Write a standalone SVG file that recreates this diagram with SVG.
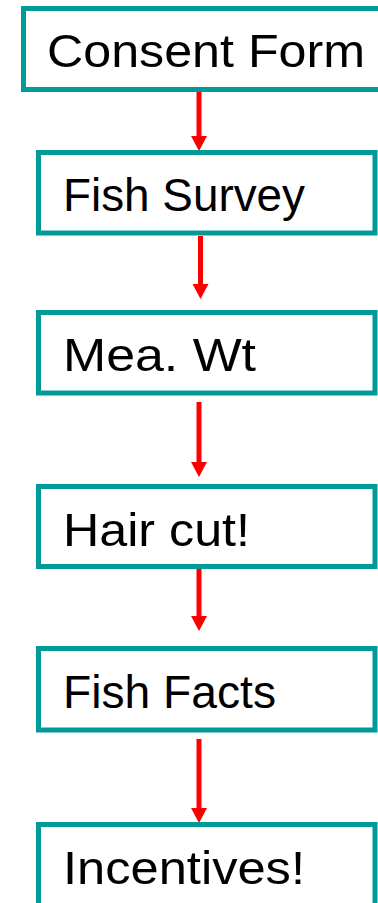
<svg xmlns="http://www.w3.org/2000/svg" width="378" height="903" viewBox="0 0 378 903">
<style>
.box{fill:#fff;stroke:#009B98;stroke-width:5}
.lbl{font-family:"Liberation Sans","Arial",sans-serif;font-size:47px;fill:#000}
.ln{stroke:#FF0000;stroke-width:5;fill:none}
.hd{fill:#FF0000}
</style>
<rect width="378" height="903" fill="#fff"/>
<g id="connectors">
<line class="ln" x1="199" y1="92" x2="199" y2="138"/><polygon class="hd" points="191,136 207,136 199,151"/>
<line class="ln" x1="200.5" y1="236" x2="200.5" y2="286"/><polygon class="hd" points="192.5,284 208.5,284 200.5,299"/>
<line class="ln" x1="199" y1="402" x2="199" y2="464"/><polygon class="hd" points="191,462 207,462 199,477"/>
<line class="ln" x1="199" y1="568" x2="199" y2="618"/><polygon class="hd" points="191,616 207,616 199,631"/>
<line class="ln" x1="199" y1="739" x2="199" y2="810"/><polygon class="hd" points="191,808 207,808 199,823"/>
</g>
<g id="n1"><rect class="box" x="23.5" y="8.5" width="370" height="81"/><text class="lbl" x="47" y="66.5" textLength="318" lengthAdjust="spacingAndGlyphs">Consent Form</text></g>
<g id="n2"><rect class="box" x="38.5" y="152.5" width="336.5" height="80.5"/><text class="lbl" x="63" y="211" textLength="242" lengthAdjust="spacingAndGlyphs">Fish Survey</text></g>
<g id="n3"><rect class="box" x="38.5" y="312.5" width="336.5" height="80.5"/><text class="lbl" x="63" y="371" textLength="193" lengthAdjust="spacingAndGlyphs">Mea. Wt</text></g>
<g id="n4"><rect class="box" x="38.5" y="486.5" width="336.5" height="80"/><text class="lbl" x="63" y="545.5" textLength="187" lengthAdjust="spacingAndGlyphs">Hair cut!</text></g>
<g id="n5"><rect class="box" x="38.5" y="648.5" width="336.5" height="81.5"/><text class="lbl" x="63" y="707.5" textLength="213" lengthAdjust="spacingAndGlyphs">Fish Facts</text></g>
<g id="n6"><rect class="box" x="38.5" y="824.5" width="336.5" height="110"/><text class="lbl" x="63" y="884" textLength="242" lengthAdjust="spacingAndGlyphs">Incentives!</text></g>
</svg>
